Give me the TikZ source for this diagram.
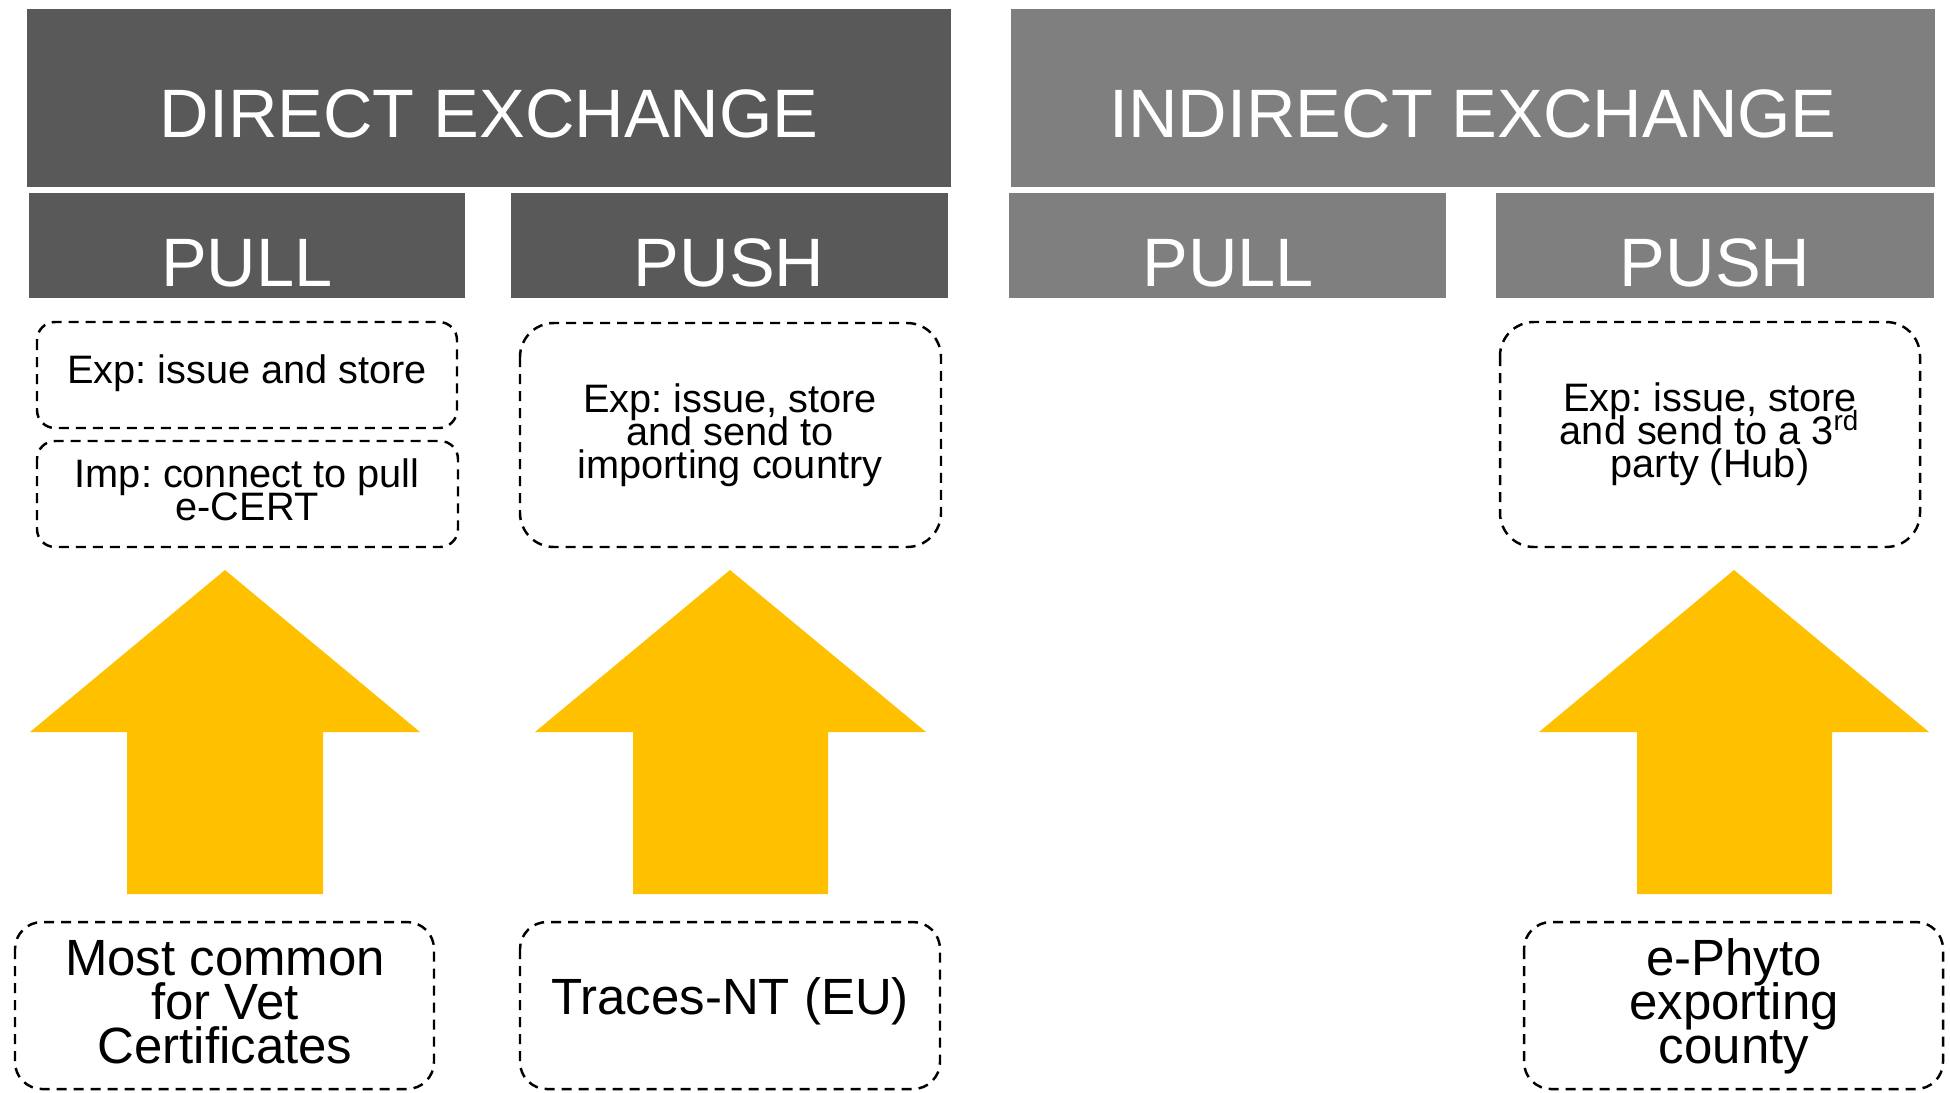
\documentclass[tikz,border=0pt]{standalone}
\usepackage{fontspec}
\setmainfont{Liberation Sans}
\usepackage{xcolor}
\usepackage{tikz}

\definecolor{directgray}{HTML}{595959}
\definecolor{indirectgray}{HTML}{7F7F7F}
\definecolor{arrowyellow}{HTML}{FFC000}

\frenchspacing
\newcommand{\tightlines}{\lineskiplimit-20pt\relax}
\tikzset{
    bartext/.style={text=white, anchor=base, inner sep=0pt, font=\fontsize{19.5}{22}\selectfont},
    smalltext/.style={align=center, inner sep=0pt, font=\fontsize{11.3}{9.4}\selectfont\tightlines},
    bigtext/.style={align=center, inner sep=0pt, font=\fontsize{14.5}{12.5}\selectfont\tightlines},
    dashbox/.style={draw=black, line width=0.7pt, dash pattern=on 1mm off 0.7mm}
}

\begin{document}
\begin{tikzpicture}[x=0.1mm, y=-0.1mm]
    \useasboundingbox (0,0) rectangle (1950,1092);

    % Header bars
    \fill[directgray] (27,9) rectangle (951,187);
    \fill[indirectgray] (1011,9) rectangle (1935,187);
    \fill[directgray] (29,193) rectangle (465,298);
    \fill[directgray] (511,193) rectangle (948,298);
    \fill[indirectgray] (1009,193) rectangle (1446,298);
    \fill[indirectgray] (1496,193) rectangle (1934,298);

    % Header labels
    \node[bartext] (dtitle) at (489,137) {DIRECT EXCHANGE};
    \node[bartext] (ititle) at (1473,137) {INDIRECT EXCHANGE};
    \node[bartext] (dpull) at (247,286) {PULL};
    \node[bartext] (dpush) at (729,286) {PUSH};
    \node[bartext] (ipull) at (1228,286) {PULL};
    \node[bartext] (ipush) at (1715,286) {PUSH};

    % Dashed boxes below the headers
    \draw[dashbox, rounded corners=1.8mm] (37,322) rectangle (457,428);
    \draw[dashbox, rounded corners=1.8mm] (37,441) rectangle (458,547);
    \draw[dashbox, rounded corners=3.4mm] (520,323) rectangle (941,547);
    \draw[dashbox, rounded corners=3.4mm] (1500,322) rectangle (1920,547);

    \node[smalltext] (expstore) at (247,373) {Exp: issue and store};
    \node[smalltext] (imppull) at (247,490) {Imp: connect to pull\\e-CERT};
    \node[smalltext] (expsend) at (730,435) {Exp: issue, store\\and send to\\importing country};
    \node[smalltext] (exphub) at (1710,434) {Exp: issue, store\\and send to a 3\textsuperscript{rd}\\party (Hub)};

    % Block arrows
    \fill[arrowyellow] (127,894) -- (127,732) -- (30,732) -- (225,570) -- (420,732) -- (323,732) -- (323,894) -- cycle;
    \fill[arrowyellow] (633,894) -- (633,732) -- (535,732) -- (730,570) -- (926,732) -- (828,732) -- (828,894) -- cycle;
    \fill[arrowyellow] (1637,894) -- (1637,732) -- (1539,732) -- (1734,570) -- (1929,732) -- (1832,732) -- (1832,894) -- cycle;

    % Examples at the bottom
    \draw[dashbox, rounded corners=2.7mm] (15,922) rectangle (434,1089);
    \draw[dashbox, rounded corners=2.7mm] (520,922) rectangle (940,1089);
    \draw[dashbox, rounded corners=2.7mm] (1524,922) rectangle (1943,1089);

    \node[bigtext] (vetcert) at (225,1002) {Most common\\for Vet\\Certificates};
    \node[bigtext] (traces) at (730,1001) {Traces-NT (EU)};
    \node[bigtext] (ephyto) at (1734,1006) {e-Phyto\\exporting\\county};
\end{tikzpicture}
\end{document}
